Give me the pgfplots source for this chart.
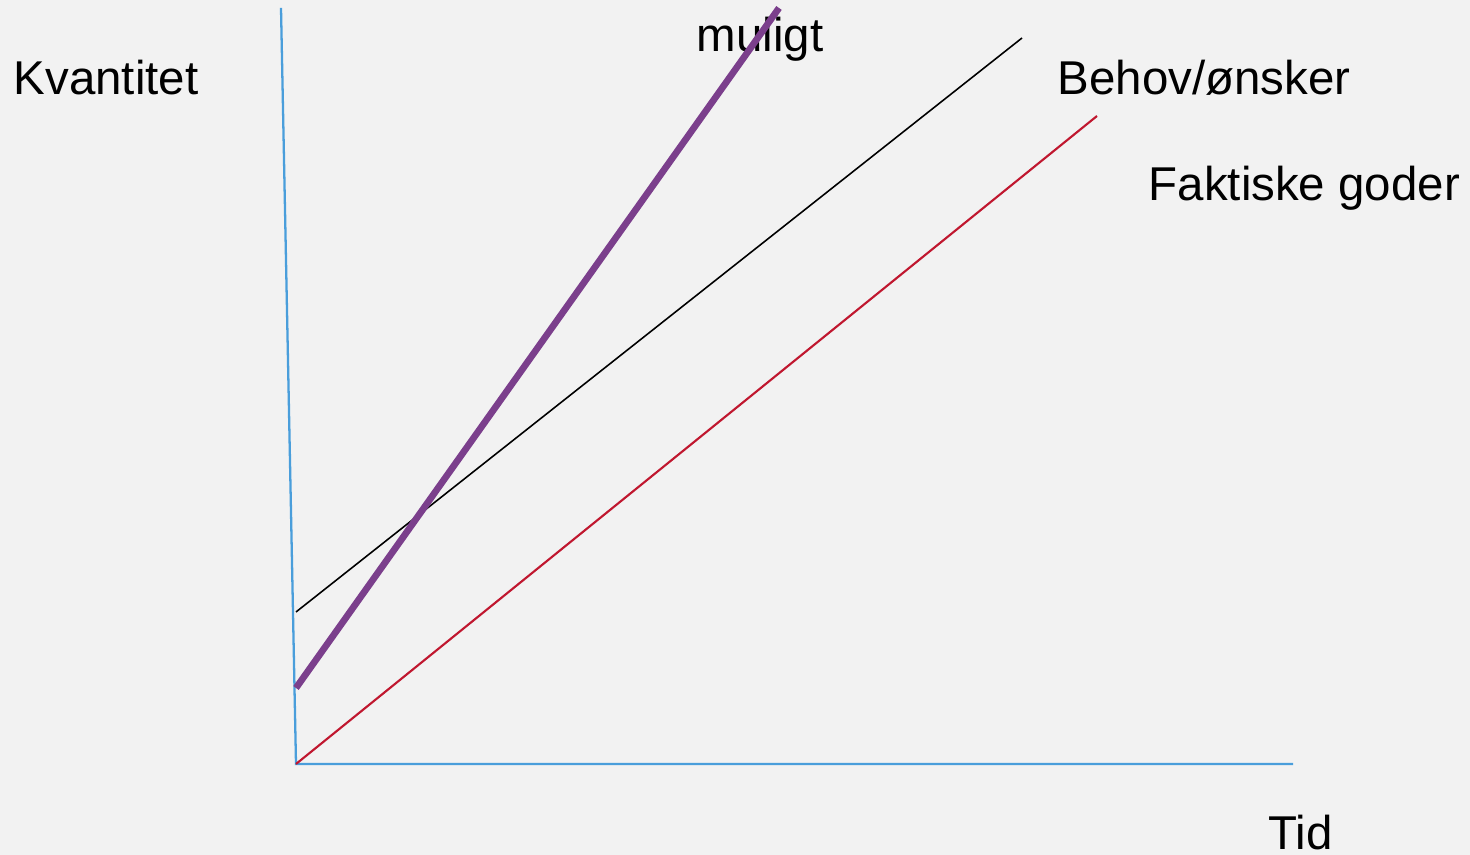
\documentclass[border=0pt]{standalone}
\usepackage{pgfplots}
\pgfplotsset{compat=1.18}
\usepackage{fontspec}
\setmainfont{Liberation Sans}
\definecolor{bg}{HTML}{F2F2F2}
\definecolor{axblue}{HTML}{4A9EDB}
\definecolor{lred}{HTML}{C0172F}
\definecolor{lpurple}{HTML}{7B3F8C}
\begin{document}
\begin{tikzpicture}
\begin{axis}[
  width=14.7cm, height=8.55cm, scale only axis,
  xmin=0, xmax=1470, ymin=0, ymax=855,
  axis lines=none, ticks=none, clip=false,
]
\fill[bg] (axis cs:0,0) rectangle (axis cs:1470,855);
% axes
\addplot[axblue, line width=0.65pt] coordinates {(281,847) (296,91) (1293,91)};
% Behov/ønsker
\addplot[black, line width=0.45pt] coordinates {(296,243) (1022,817)};
% Faktiske goder
\addplot[lred, line width=0.6pt] coordinates {(296,91) (1097,739)};
\node[anchor=west, font=\fontsize{13.5}{16}\selectfont, inner sep=0pt] at (axis cs:13,777) {Kvantitet};
\node[anchor=center, font=\fontsize{13.5}{16}\selectfont, inner sep=0pt] at (axis cs:760,816) {muligt};
\node[anchor=west, font=\fontsize{13.5}{16}\selectfont, inner sep=0pt] at (axis cs:1057,777) {Behov/ønsker};
\node[anchor=west, font=\fontsize{13.5}{16}\selectfont, inner sep=0pt] at (axis cs:1148,667) {Faktiske goder};
\node[anchor=west, font=\fontsize{13.5}{16}\selectfont, inner sep=0pt] at (axis cs:1268,22) {Tid};
% muligt
\addplot[lpurple, line width=1.9pt] coordinates {(296,167) (779,847)};
\end{axis}
\end{tikzpicture}
\end{document}
